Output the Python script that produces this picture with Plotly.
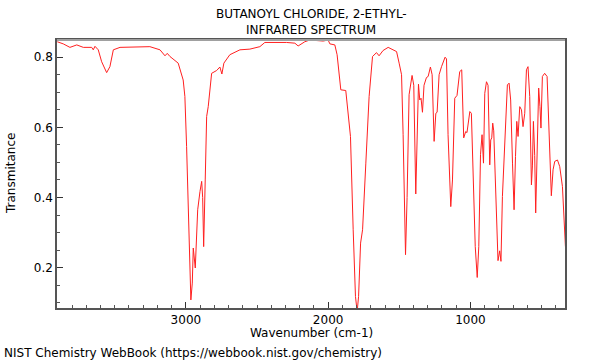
import plotly.graph_objects as go

wavenumber = [3904, 3862, 3815, 3767, 3721, 3662, 3651, 3639, 3616, 3592, 3557, 3534, 3510, 3463,
              3253, 3182, 3147, 3131, 3112, 3054, 3019, 3007, 2995, 2984, 2972, 2965, 2955, 2948,
              2934, 2917, 2901, 2889, 2882, 2875, 2864, 2854, 2843, 2819, 2784, 2761, 2747, 2733,
              2691, 2620, 2550, 2480, 2445, 2410, 2339, 2292, 2234, 2211, 2164, 2129, 2035, 2000,
              1988, 1953, 1937, 1923, 1911, 1876, 1859, 1843, 1824, 1808, 1796, 1786, 1772, 1758,
              1735, 1712, 1688, 1660, 1642, 1614, 1578, 1548, 1519, 1501, 1484, 1473, 1456, 1445,
              1431, 1410, 1398, 1384, 1375, 1365, 1356, 1347, 1337, 1326, 1309, 1297, 1281, 1269,
              1255, 1243, 1234, 1220, 1203, 1192, 1178, 1168, 1157, 1138, 1126, 1110, 1094, 1075,
              1061, 1047, 1033, 1024, 1016, 1004, 993, 981, 966, 952, 941, 929, 918, 908, 899, 887,
              876, 864, 857, 850, 843, 836, 829, 817, 806, 794, 785, 775, 764, 752, 740, 728, 717,
              704, 693, 683, 674, 665, 653, 641, 630, 618, 606, 595, 583, 571, 564, 557, 548, 541,
              532, 520, 511, 504, 494, 478, 461, 447, 431, 419, 407, 388, 372, 353, 337, 332]

transmittance = [0.844, 0.838, 0.828, 0.835, 0.828, 0.828, 0.821, 0.831, 0.821, 0.787, 0.756, 0.773,
                 0.821, 0.828, 0.830, 0.821, 0.804, 0.811, 0.802, 0.783, 0.735, 0.688, 0.545, 0.356,
                 0.156, 0.108, 0.156, 0.256, 0.199, 0.365, 0.417, 0.446, 0.400, 0.260, 0.450, 0.631,
                 0.659, 0.754, 0.762, 0.772, 0.752, 0.783, 0.807, 0.821, 0.823, 0.830, 0.842, 0.842,
                 0.844, 0.842, 0.840, 0.832, 0.844, 0.849, 0.846, 0.849, 0.838, 0.835, 0.807, 0.754,
                 0.707, 0.705, 0.631, 0.574, 0.308, 0.118, 0.075, 0.118, 0.270, 0.308, 0.498, 0.688,
                 0.802, 0.813, 0.804, 0.819, 0.828, 0.821, 0.816, 0.783, 0.750, 0.579, 0.237, 0.400,
                 0.693, 0.748, 0.720, 0.410, 0.600, 0.723, 0.678, 0.683, 0.643, 0.720, 0.742, 0.745,
                 0.772, 0.750, 0.560, 0.640, 0.643, 0.750, 0.773, 0.783, 0.800, 0.795, 0.579, 0.374,
                 0.450, 0.683, 0.691, 0.759, 0.764, 0.570, 0.588, 0.585, 0.612, 0.645, 0.640, 0.498,
                 0.260, 0.172, 0.260, 0.522, 0.579, 0.498, 0.697, 0.730, 0.720, 0.493, 0.564, 0.570,
                 0.612, 0.590, 0.488, 0.356, 0.220, 0.248, 0.218, 0.403, 0.493, 0.612, 0.721, 0.726,
                 0.678, 0.498, 0.365, 0.517, 0.617, 0.574, 0.659, 0.650, 0.602, 0.640, 0.764, 0.773,
                 0.688, 0.436, 0.490, 0.617, 0.520, 0.356, 0.545, 0.712, 0.659, 0.598, 0.745, 0.754,
                 0.745, 0.593, 0.405, 0.479, 0.503, 0.507, 0.488, 0.431, 0.308, 0.260]

title_lines = ["BUTANOYL CHLORIDE, 2-ETHYL-", "INFRARED SPECTRUM"]
x_title = "Wavenumber (cm-1)"
y_title = "Transmitance"
footer = "NIST Chemistry WebBook (https://webbook.nist.gov/chemistry)"

FONT = "DejaVu Sans"
L, R, T, B = 57, 35, 40, 52
PW, PH = 600 - L - R, 360 - T - B


def px_x(px):
    return (px - L) / PW


def px_y(py):
    return (360 - B - py) / PH


fig = go.Figure()
fig.add_trace(go.Scatter(x=wavenumber, y=transmittance, mode="lines",
                         line=dict(color="#ff2020", width=1), hoverinfo="skip",
                         showlegend=False))

fig.update_layout(
    width=600, height=360,
    margin=dict(l=L, r=R, t=T, b=B, autoexpand=False),
    paper_bgcolor="white", plot_bgcolor="white",
    font=dict(family=FONT, size=12, color="black"),
    xaxis=dict(range=[3906, 335], tick0=0, dtick=1000, ticks="inside", ticklen=6,
               tickcolor="#333", showgrid=False, zeroline=False, automargin=False,
               showline=True, linecolor="#555", linewidth=1.5, mirror=True,
               minor=dict(dtick=100, ticks="inside", ticklen=3, tickcolor="#555"),
               tickfont=dict(family=FONT, size=12)),
    yaxis=dict(range=[0.085, 0.849], tick0=0, dtick=0.2, ticks="inside", ticklen=6,
               tickcolor="#333", showgrid=False, zeroline=False, automargin=False,
               showline=True, linecolor="#555", linewidth=1.5, mirror=True,
               minor=dict(dtick=0.05, ticks="inside", ticklen=3, tickcolor="#555"),
               tickfont=dict(family=FONT, size=12)),
)

fig.add_shape(type="line", xref="paper", yref="paper", x0=0, x1=1, y0=1, y1=1,
              line=dict(color="#a0a0a0", width=2))

texts = [
    (title_lines[0], px_x(311), px_y(14), "center", 0),
    (title_lines[1], px_x(311), px_y(30), "center", 0),
    (x_title, px_x(311), px_y(333), "center", 0),
    (y_title, px_x(11), px_y(174), "center", -90),
    (footer, px_x(3), px_y(353), "left", 0),
]
for txt, xx, yy, anchor, ang in texts:
    fig.add_annotation(text=txt, xref="paper", yref="paper", x=xx, y=yy,
                       xanchor=anchor, yanchor="middle", showarrow=False,
                       textangle=ang, borderpad=0,
                       font=dict(family=FONT, size=12, color="black"))

fig.write_html("out.html", config={"displayModeBar": False},
               post_script="document.body.style.margin='0';")
